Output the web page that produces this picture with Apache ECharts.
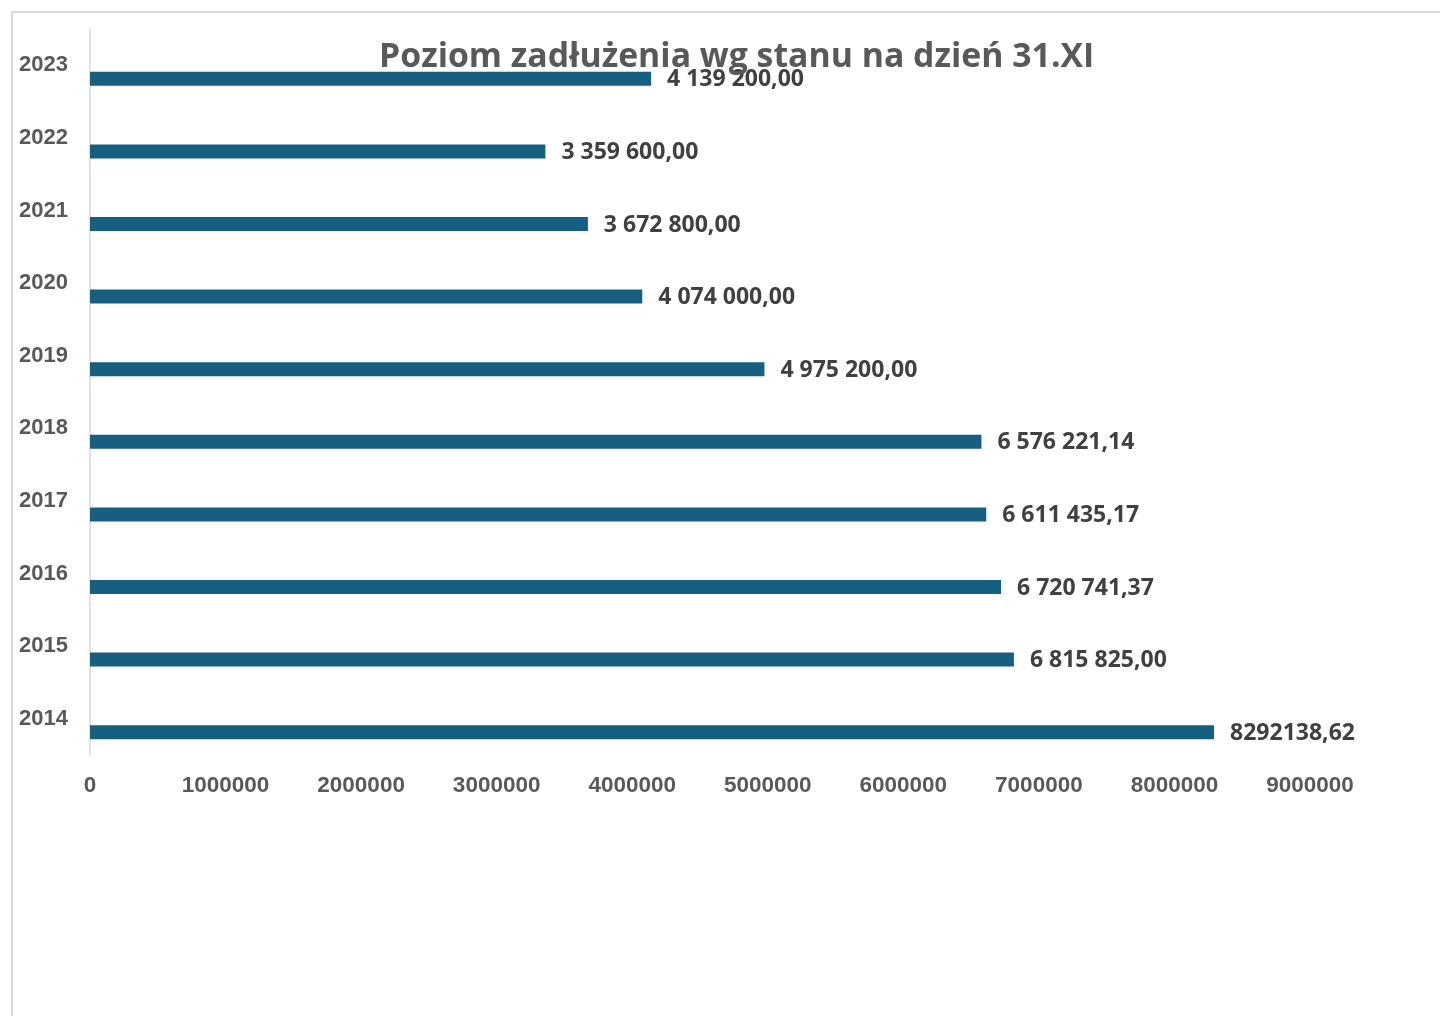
<!DOCTYPE html>
<html>
<head>
<meta charset="utf-8">
<script src="https://cdn.jsdelivr.net/npm/echarts@6/dist/echarts.min.js"></script>
<style>
html,body{margin:0;padding:0;background:#fff;}
#chart{width:1440px;height:1016px;}
</style>
</head>
<body>
<div id="chart"></div>
<script>
var years = ['2023','2022','2021','2020','2019','2018','2017','2016','2015','2014'];
var values = [4139200.00, 3359600.00, 3672800.00, 4074000.00, 4975200.00, 6576221.14, 6611435.17, 6720741.37, 6815825.00, 8292138.62];
var valueLabels = ['4 139 200,00','3 359 600,00','3 672 800,00','4 074 000,00','4 975 200,00','6 576 221,14','6 611 435,17','6 720 741,37','6 815 825,00','8292138,62'];
var xTicks = [0,1000000,2000000,3000000,4000000,5000000,6000000,7000000,8000000,9000000];
var titleText = 'Poziom zadłużenia wg stanu na dzień 31.XI';

var chart = echarts.init(document.getElementById('chart'));
chart.setOption({
  animation: false,
  backgroundColor: '#ffffff',
  graphic: [{
    type: 'rect',
    shape: {x: 12, y: 12, width: 1600, height: 1200},
    style: {fill: 'none', stroke: '#d9d9d9', lineWidth: 2},
    silent: true, z: -10
  }],
  title: {
    text: titleText,
    left: 374,
    top: 35,
    textStyle: {fontFamily: 'Open Sans', fontWeight: 'bold', fontSize: 33.8, color: '#595959'}
  },
  grid: {left: 90, right: 130, top: 29, bottom: 261, containLabel: false},
  xAxis: {
    type: 'value',
    min: xTicks[0],
    max: xTicks[xTicks.length - 1],
    interval: 1000000,
    axisLine: {show: false},
    axisTick: {show: false},
    splitLine: {show: false},
    axisLabel: {
      margin: 19,
      fontFamily: 'Liberation Sans',
      fontWeight: 'bold',
      fontSize: 22.5,
      color: '#595959',
      formatter: function (v) { return String(v); }
    }
  },
  yAxis: {
    type: 'category',
    data: years,
    inverse: true,
    axisLine: {show: true, lineStyle: {color: '#d9d9d9', width: 1.5}},
    axisTick: {show: false},
    axisLabel: {
      margin: 22,
      fontFamily: 'Liberation Sans',
      fontWeight: 'bold',
      fontSize: 22,
      color: '#595959',
      padding: [0, 0, 2, 0]
    }
  },
  series: [
    {
      type: 'bar',
      data: years.map(function () { return null; }),
      barWidth: 14,
      barGap: '93%',
      silent: true
    },
    {
      type: 'bar',
      data: values,
      barWidth: 14,
      barGap: '93%',
      itemStyle: {color: '#175f80'},
      label: {
        show: true,
        position: 'right',
        distance: 16,
        offset: [0, 1],
        fontFamily: 'Open Sans',
        fontWeight: 'bold',
        fontSize: 23,
        color: '#404040',
        formatter: function (p) { return valueLabels[p.dataIndex]; }
      }
    }
  ]
});
</script>
</body>
</html>
